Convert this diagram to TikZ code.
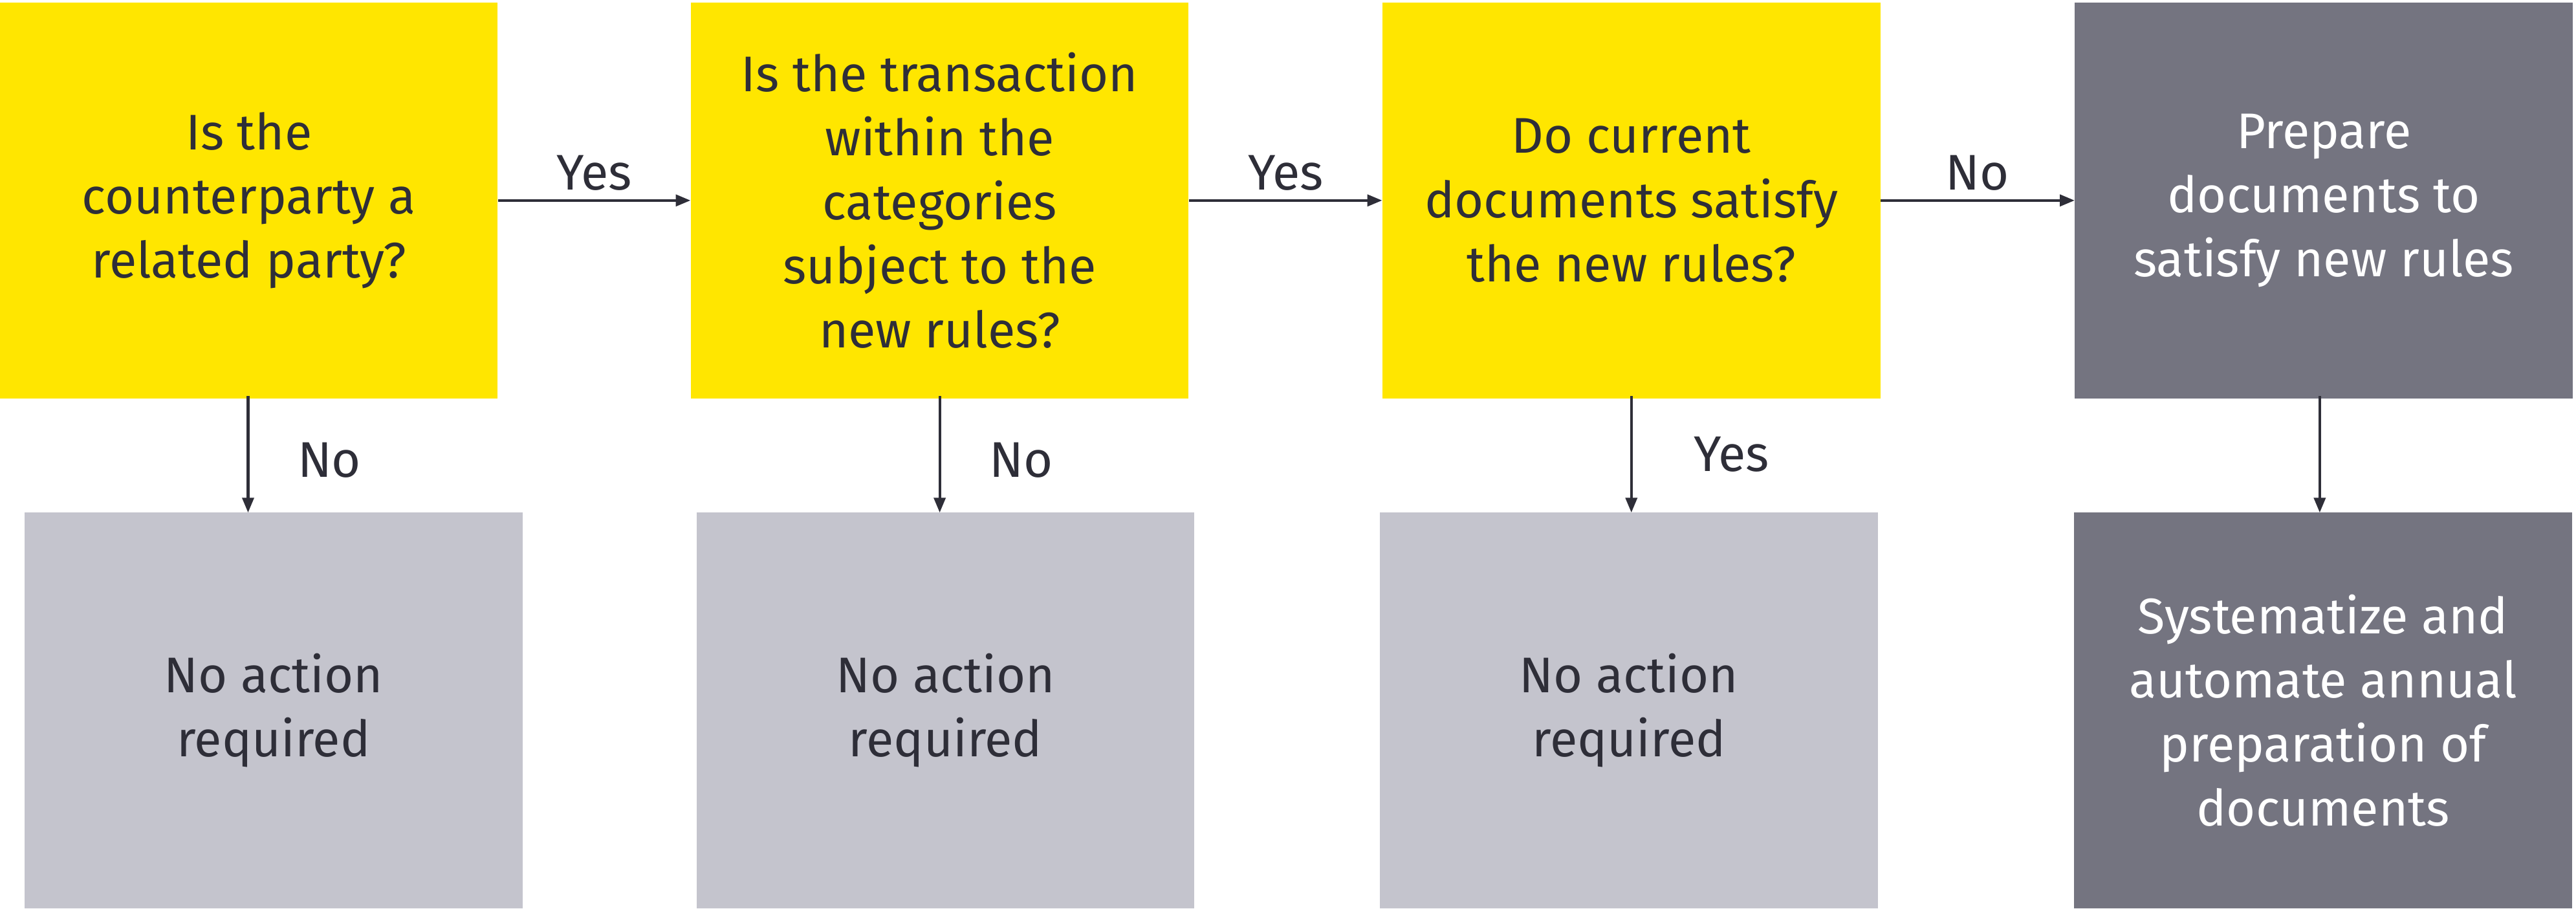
\documentclass[tikz,border=0pt]{standalone}
\usepackage{fontspec}
\setmainfont{Fira Sans}
\usetikzlibrary{arrows.meta}
\definecolor{eyy}{HTML}{FFE600}
\definecolor{eyd}{HTML}{747480}
\definecolor{eyl}{HTML}{C4C4CD}
\definecolor{eyt}{HTML}{2E2E38}
\begin{document}
\begin{tikzpicture}[x=1pt,y=-1pt,
  bx/.style={minimum width=303pt,minimum height=241pt,inner sep=0pt,align=center,
    font=\fontsize{30.5}{39}\selectfont,text=eyt},
  yb/.style={bx,fill=eyy},
  db/.style={bx,fill=eyd,text=white},
  lb/.style={bx,fill=eyl},
  ar/.style={-{Triangle[length=9pt,width=7pt]},line width=1.6pt,draw=eyt},
  lab/.style={font=\fontsize{30.5}{39}\selectfont,text=eyt}]
\useasboundingbox (0,0) rectangle (1568,553);
\node[yb] (a1) at (151.5,122) {Is the\\counterparty a\\related party?};
\node[yb] (a2) at (572,122) {Is the transaction\\within the\\categories\\subject to the\\new rules?};
\node[yb] (a3) at (993,122) {Do current\\documents satisfy\\the new rules?};
\node[db] (a4) at (1414.5,122) {Prepare\\documents to\\satisfy new rules};
\node[lb] (b1) at (166.5,432.5) {No action\\required};
\node[lb] (b2) at (575.5,432.5) {No action\\required};
\node[lb] (b3) at (991.5,432.5) {No action\\required};
\node[db] (b4) at (1414,432.5) {Systematize and\\automate annual\\preparation of\\documents};
\draw[ar] (a1.east) -- (a2.west) node[lab,midway,above=2pt] {Yes};
\draw[ar] (a2.east) -- (a3.west) node[lab,midway,above=2pt] {Yes};
\draw[ar] (a3.east) -- (a4.west) node[lab,midway,above=2pt] {No};
\coordinate (d1) at (151,241); \coordinate (e1) at (151,312);
\coordinate (d2) at (572,241); \coordinate (e2) at (572,312);
\coordinate (d3) at (993,241); \coordinate (e3) at (993,312);
\coordinate (d4) at (1412,241); \coordinate (e4) at (1412,312);
\draw[ar] (d1) -- (e1) node[lab,pos=0.55,right=26pt] {No};
\draw[ar] (d2) -- (e2) node[lab,pos=0.55,right=26pt] {No};
\draw[ar] (d3) -- (e3) node[lab,pos=0.5,right=34pt] {Yes};
\draw[ar] (d4) -- (e4);
\end{tikzpicture}
\end{document}
